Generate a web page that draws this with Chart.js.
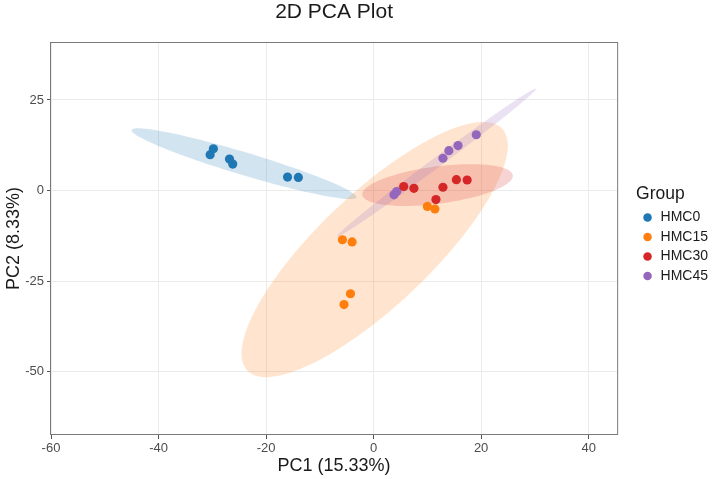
<!DOCTYPE html>
<html>
<head>
<meta charset="utf-8">
<script src="https://cdn.jsdelivr.net/npm/chart.js@4/dist/chart.umd.min.js"></script>
<style>
    html, body { margin: 0; padding: 0; background: #ffffff; }
</style>
</head>
<body>
<canvas id="pcaChart" width="714" height="479"></canvas>
<script>
// groups and their colours
var groups = ['HMC0', 'HMC15', 'HMC30', 'HMC45'];
var groupColors = ['#1F77B4', '#FF7F0E', '#D62728', '#9467BD'];

// PC1 / PC2 scores
var hmc0PC1 = [-30.4, -29.8, -26.8, -26.2, -16.0, -14.0];
var hmc0PC2 = [9.9, 11.5, 8.7, 7.3, 3.7, 3.6];
var hmc15PC1 = [-5.8, -4.0, -4.3, -5.5, 10.0, 11.4];
var hmc15PC2 = [-13.6, -14.2, -28.5, -31.5, -4.4, -5.1];
var hmc30PC1 = [5.6, 7.5, 12.9, 15.4, 17.4, 11.6];
var hmc30PC2 = [1.1, 0.6, 0.9, 3.0, 2.9, -2.5];
var hmc45PC1 = [3.8, 4.3, 12.9, 14.0, 15.7, 19.1];
var hmc45PC2 = [-1.2, -0.3, 8.9, 11.0, 12.4, 15.4];

// confidence ellipses (data units): centre, major half-axis, minor half-axis
var ellipseCenterX = [-24.1, 0.2, 11.9, 11.7];
var ellipseCenterY = [7.4, -16.3, 1.5, 7.7];
var ellipseMajorX = [20.9, 23.7, 14.0, 18.5];
var ellipseMajorY = [-9.3, 33.4, 2.7, 20.4];
var ellipseMinorX = [-0.6, 7.2, 0.44, 0.55];
var ellipseMinorY = [-3.0, -11.2, -5.1, -1.1];

// axis ticks
var xTicks = [-60, -40, -20, 0, 20, 40];
var yTicks = [-50, -25, 0, 25];

var pc1Values = [hmc0PC1, hmc15PC1, hmc30PC1, hmc45PC1];
var pc2Values = [hmc0PC2, hmc15PC2, hmc30PC2, hmc45PC2];

var fontFamily = 'Liberation Sans, Arial, sans-serif';

function toRgba(hex, alpha) {
    var r = parseInt(hex.substr(1, 2), 16);
    var g = parseInt(hex.substr(3, 2), 16);
    var b = parseInt(hex.substr(5, 2), 16);
    return 'rgba(' + r + ',' + g + ',' + b + ',' + alpha + ')';
}

// build the scatter datasets
var datasets = groups.map(function (name, g) {
    var pts = pc1Values[g].map(function (x, i) {
        return { x: x, y: pc2Values[g][i] };
    });
    return {
        label: name,
        data: pts,
        backgroundColor: groupColors[g],
        borderColor: groupColors[g],
        borderWidth: 0,
        pointRadius: 4.6,
        pointHoverRadius: 4.6
    };
});

// ellipses are drawn behind the points, through the chart scales
var ellipsePlugin = {
    id: 'ellipses',
    beforeDatasetsDraw: function (chart) {
        var ctx = chart.ctx;
        var area = chart.chartArea;
        var xs = chart.scales.x;
        var ys = chart.scales.y;
        ctx.save();
        ctx.beginPath();
        ctx.rect(area.left, area.top, area.right - area.left, area.bottom - area.top);
        ctx.clip();
        for (var g = 0; g < groups.length; g++) {
            ctx.beginPath();
            for (var i = 0; i <= 120; i++) {
                var t = i / 120 * Math.PI * 2;
                var dx = ellipseCenterX[g] + ellipseMajorX[g] * Math.cos(t) + ellipseMinorX[g] * Math.sin(t);
                var dy = ellipseCenterY[g] + ellipseMajorY[g] * Math.cos(t) + ellipseMinorY[g] * Math.sin(t);
                var px = xs.getPixelForValue(dx);
                var py = ys.getPixelForValue(dy);
                if (i === 0) ctx.moveTo(px, py); else ctx.lineTo(px, py);
            }
            ctx.closePath();
            ctx.fillStyle = toRgba(groupColors[g], 0.2);
            ctx.fill();
        }
        ctx.restore();
    },
    afterDraw: function (chart) {
        // panel border like theme_bw
        var ctx = chart.ctx;
        var a = chart.chartArea;
        ctx.save();
        ctx.strokeStyle = '#7a7a7a';
        ctx.lineWidth = 1;
        ctx.strokeRect(a.left - 0.5, a.top + 0.5, a.right - a.left + 1, a.bottom - a.top - 1);
        ctx.restore();
    }
};

var ctx = document.getElementById('pcaChart').getContext('2d');
var pcaChart = new Chart(ctx, {
    type: 'scatter',
    data: { datasets: datasets },
    plugins: [ellipsePlugin],
    options: {
        responsive: false,
        animation: false,
        layout: { padding: { left: 0, right: -4, top: 0, bottom: 0 } },
        plugins: {
            title: {
                display: true,
                text: '2D PCA Plot',
                fullSize: false,
                color: '#1a1a1a',
                font: { family: fontFamily, size: 21, weight: 'normal' },
                padding: { top: 0, bottom: 16.8 }
            },
            legend: {
                display: true,
                position: 'right',
                align: 'center',
                title: {
                    display: true,
                    text: 'Group',
                    position: 'start',
                    color: '#1a1a1a',
                    font: { family: fontFamily, size: 17.5 },
                    padding: { top: -5.3, bottom: -1.3 }
                },
                labels: {
                    usePointStyle: true,
                    pointStyle: 'circle',
                    boxWidth: 12,
                    boxHeight: 6,
                    padding: 5.5,
                    color: '#1a1a1a',
                    font: { family: fontFamily, size: 14 }
                }
            },
            tooltip: { enabled: false }
        },
        scales: {
            x: {
                type: 'linear',
                min: -60,
                max: 45.3,
                afterBuildTicks: function (scale) {
                    scale.ticks = xTicks.map(function (v) { return { value: v }; });
                },
                afterFit: function (scale) { scale.height = 44; },
                grid: {
                    color: '#ebebeb',
                    lineWidth: 1,
                    tickLength: 4,
                    tickColor: '#555555'
                },
                border: { display: false },
                ticks: {
                    color: '#4d4d4d',
                    padding: 2,
                    maxRotation: 0,
                    font: { family: fontFamily, size: 13 }
                },
                title: {
                    display: true,
                    text: 'PC1 (15.33%)',
                    color: '#1a1a1a',
                    font: { family: fontFamily, size: 18 },
                    padding: { top: 0, bottom: 2 }
                }
            },
            y: {
                type: 'linear',
                min: -67.5,
                max: 41,
                afterBuildTicks: function (scale) {
                    scale.ticks = yTicks.map(function (v) { return { value: v }; });
                },
                afterFit: function (scale) { scale.width = 51; },
                grid: {
                    color: '#ebebeb',
                    lineWidth: 1,
                    tickLength: 4,
                    tickColor: '#555555'
                },
                border: { display: false },
                ticks: {
                    color: '#4d4d4d',
                    padding: 3,
                    font: { family: fontFamily, size: 13 }
                },
                title: {
                    display: true,
                    text: 'PC2 (8.33%)',
                    color: '#1a1a1a',
                    font: { family: fontFamily, size: 18 },
                    padding: { top: 3, bottom: 0 }
                }
            },
            // empty spacer between the panel and the legend
            gap: {
                type: 'linear',
                position: 'right',
                display: true,
                grid: { display: false, drawTicks: false },
                border: { display: false },
                ticks: { display: false },
                afterFit: function (scale) { scale.width = 18.9; }
            }
        }
    }
});
</script>
</body>
</html>
